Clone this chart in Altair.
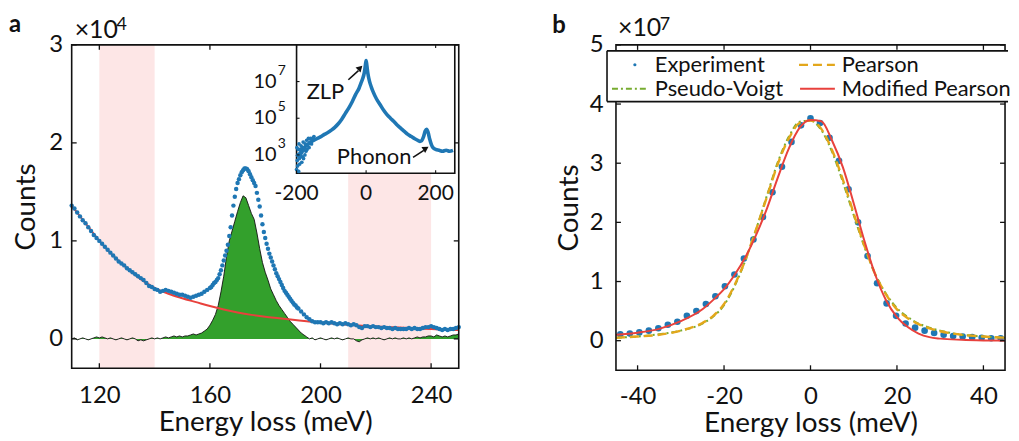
import altair as alt
import pandas as pd

FONT = "Lato"
INK = "#111111"
BLUE = "#1f77b4"
RED = "#e8413c"
GREEN = "#33a02c"
PINK = "#fde6e6"
YEL = "#e3a71b"
PVG = "#77ac30"

# ---------------- panel a : data (counts in units of 1e4) ----------------
a_blue_x = list(range(110, 160)) + [160 + 0.5 * i for i in range(65)] + list(range(193, 251))
a_blue_y = [
    1.36, 1.33, 1.29, 1.25, 1.21, 1.18, 1.14, 1.10, 1.06, 1.03,
    1.00, 0.97, 0.94, 0.91, 0.88, 0.85, 0.82, 0.79, 0.77, 0.75,
    0.72, 0.70, 0.68, 0.66, 0.64, 0.62, 0.60, 0.57, 0.54, 0.53,
    0.51, 0.50, 0.48, 0.49, 0.50, 0.49, 0.48, 0.47, 0.46, 0.45,
    0.45, 0.44, 0.43, 0.42, 0.43, 0.44, 0.45, 0.46, 0.48, 0.50,
    # 160 .. 192 (0.5 meV)
    0.52, 0.53, 0.55, 0.57, 0.58, 0.60, 0.62, 0.66, 0.70, 0.75,
    0.80, 0.85, 0.90, 0.96, 1.05, 1.14, 1.26, 1.36, 1.45, 1.53,
    1.59, 1.63, 1.67, 1.70, 1.72, 1.74, 1.74, 1.73, 1.71, 1.68,
    1.65, 1.62, 1.59, 1.56, 1.49, 1.42, 1.35, 1.26, 1.17, 1.09,
    1.03, 0.97, 0.92, 0.87, 0.83, 0.79, 0.75, 0.71, 0.67, 0.64,
    0.61, 0.58, 0.55, 0.52, 0.49, 0.47, 0.45, 0.43, 0.41, 0.39,
    0.37, 0.35, 0.34, 0.32, 0.31,
    # 193 .. 250
    0.28, 0.25, 0.22, 0.20, 0.18, 0.17, 0.17, 0.17,
    0.16, 0.17, 0.16, 0.17, 0.16, 0.15, 0.16, 0.15, 0.16, 0.15,
    0.14, 0.15, 0.14, 0.12, 0.11, 0.13, 0.13, 0.12, 0.13, 0.12,
    0.12, 0.11, 0.12, 0.11, 0.11, 0.10, 0.11, 0.10, 0.10, 0.10,
    0.10, 0.11, 0.10, 0.11, 0.10, 0.10, 0.11, 0.12, 0.12, 0.13,
    0.12, 0.11, 0.10, 0.09, 0.10, 0.09, 0.10, 0.10, 0.11, 0.12,
]
a_green_x = list(range(110, 251))
a_green_y = [
    0.00, 0.01, -0.01, 0.00, 0.01, 0.00, -0.01, 0.00, 0.01, 0.02,
    0.01, 0.02, 0.01, 0.00, 0.01, 0.00, -0.01, 0.00, 0.01, 0.00,
    -0.01, 0.00, 0.01, 0.00, -0.02, -0.01, -0.02, -0.01, 0.00, 0.01,
    0.00, 0.01, 0.00, 0.01, 0.02, 0.01, 0.02, 0.03, 0.02, 0.03,
    0.02, 0.03, 0.03, 0.04, 0.05, 0.04, 0.05, 0.06, 0.08, 0.10,
    0.14, 0.19, 0.25, 0.34, 0.48, 0.64, 0.84, 1.00, 1.10, 1.20,
    1.30, 1.39, 1.46, 1.44, 1.36, 1.28, 1.22, 1.08, 0.92, 0.78,
    0.68, 0.60, 0.51, 0.45, 0.39, 0.34, 0.30, 0.26, 0.22, 0.18,
    0.15, 0.12, 0.09, 0.06, 0.04, 0.02, 0.00, 0.01, -0.01, 0.00,
    0.01, 0.00, -0.01, 0.00, 0.01, 0.00, 0.01, 0.00, -0.01, 0.00,
    0.01, 0.00, 0.00, -0.02, -0.03, -0.01, 0.00, 0.01, 0.00, 0.01,
    0.00, 0.01, 0.00, -0.01, 0.00, 0.01, 0.00, 0.01, 0.00, 0.00,
    0.01, 0.00, 0.01, 0.00, 0.01, 0.02, 0.01, 0.02, 0.02, 0.03,
    0.03, 0.02, 0.04, 0.03, 0.02, 0.03, 0.02, 0.03, 0.04, 0.04,
    0.05,
]
a_bg_x = list(range(110, 251, 5))
a_bg_y = [1.36, 1.18, 1.00, 0.85, 0.72, 0.61, 0.52, 0.46, 0.415, 0.375,
          0.335, 0.30, 0.27, 0.245, 0.225, 0.21, 0.195, 0.18, 0.165, 0.155,
          0.145, 0.135, 0.127, 0.12, 0.113, 0.107, 0.10, 0.095, 0.09]
band_start = [120, 210]
band_end = [140, 240]
a_xticks = [120, 160, 200, 240]
a_yticks = [0, 1, 2, 3]

# inset (log10 of counts)
in_x = [-200, -190, -180, -170, -160, -150, -140, -130, -120, -110, -100, -90, -80, -70,
        -60, -50, -40, -30, -20, -15, -10, -5, -2, 0, 2, 5, 10, 15, 20, 30, 40, 50, 60,
        70, 80, 90, 100, 110, 120, 130, 140, 150, 155, 160, 165, 170, 174, 178, 183,
        188, 193, 200, 210, 220, 230, 240, 250]
in_logy = [2.9, 3.1, 3.35, 3.55, 3.68, 3.8, 3.9, 4.0, 4.12, 4.22, 4.35, 4.5, 4.7, 4.95,
           5.25, 5.55, 5.9, 6.3, 6.65, 6.9, 7.15, 7.5, 7.9, 8.15, 7.9, 7.45, 7.0, 6.7,
           6.45, 6.05, 5.75, 5.45, 5.2, 5.0, 4.82, 4.62, 4.45, 4.28, 4.12, 4.0, 3.88,
           3.78, 3.74, 3.78, 3.98, 4.3, 4.4, 4.25, 3.85, 3.55, 3.38, 3.3, 3.25, 3.2,
           3.25, 3.2, 3.25]
noise_x = [-200, -199, -198, -197, -196, -195, -194, -193, -192, -191, -190, -189, -188,
           -187, -186, -185, -184, -183, -182, -181, -180, -179, -178, -176, -175, -173,
           -171, -170, -168, -166, -164, -162, -160, -157, -155, -152, -150]
noise_logy = [2.2, 3.4, 2.7, 2.4, 3.0, 3.3, 2.1, 3.6, 2.8, 2.5, 3.3, 3.0, 2.9, 3.5, 3.1,
              2.6, 3.4, 3.2, 2.9, 3.7, 2.8, 3.3, 3.4, 3.0, 3.6, 3.2, 3.8, 3.3, 3.5, 3.9,
              3.4, 3.7, 3.9, 3.6, 3.8, 3.95, 4.0]
inset_xticks = [-200, 0, 200]
inset_xlabels = ["-200", "0", "200"]
inset_yticks = [1e3, 1e5, 1e7]
inset_yexp = ["3", "5", "7"]

# ---------------- panel b : data (counts in units of 1e7) ----------------
b_exp_x = [-44 + 2.2 * i for i in range(41)]
b_exp_y = [0.11, 0.12, 0.14, 0.17, 0.21, 0.27, 0.32, 0.42, 0.50, 0.62,
           0.75, 0.92, 1.12, 1.39, 1.71, 2.09, 2.51, 2.94, 3.36, 3.64,
           3.76, 3.68, 3.43, 3.04, 2.56, 2.00, 1.43, 0.97, 0.63, 0.42,
           0.29, 0.22, 0.17, 0.13, 0.10, 0.08, 0.07, 0.06, 0.05, 0.04, 0.04]
fit_x = [-45, -40, -35, -30, -25, -22.5, -20, -17.5, -15, -12.5, -10, -7.5, -5, -2.5, 0,
         2.5, 5, 7.5, 10, 12.5, 15, 17.5, 20, 22.5, 25, 27.5, 30, 35, 40, 45]
mod_pearson = [0.10, 0.135, 0.20, 0.33, 0.53, 0.69, 0.87, 1.12, 1.42, 1.80, 2.25, 2.77,
               3.25, 3.60, 3.73, 3.71, 3.38, 2.93, 2.32, 1.68, 1.11, 0.68, 0.40, 0.23,
               0.12, 0.06, 0.035, 0.015, 0.005, 0.0]
pearson = [0.05, 0.07, 0.10, 0.17, 0.30, 0.42, 0.62, 0.95, 1.38, 1.90, 2.45, 3.00, 3.42,
           3.68, 3.72, 3.58, 3.22, 2.72, 2.15, 1.60, 1.12, 0.78, 0.53, 0.38, 0.28, 0.21,
           0.16, 0.10, 0.07, 0.05]
pseudo_voigt = [0.05, 0.07, 0.11, 0.17, 0.29, 0.41, 0.60, 0.93, 1.37, 1.90, 2.47, 3.03,
                3.45, 3.70, 3.72, 3.56, 3.19, 2.68, 2.12, 1.58, 1.12, 0.79, 0.55, 0.40,
                0.29, 0.22, 0.17, 0.10, 0.07, 0.05]
b_xticks = [-40, -20, 0, 20, 40]
b_yticks = [0, 1, 2, 3, 4, 5]

# ---------------- geometry ----------------
W_A, H_A = 389, 325
W_B, H_B = 391, 327
TL = 5
dummy = pd.DataFrame({"k": [0]})


def vtext(txt, x, y, size, weight="normal", align="left", baseline="alphabetic"):
    return alt.Chart(dummy).mark_text(
        text=txt, font=FONT, fontSize=size, fontWeight=weight, align=align,
        baseline=baseline, color=INK).encode(x=alt.value(x), y=alt.value(y))


def frame(W, H):
    return alt.Chart(dummy).mark_rect(fill="white", fillOpacity=0, stroke=INK, strokeWidth=1.6).encode(
        x=alt.value(0), x2=alt.value(W), y=alt.value(0), y2=alt.value(H))


def ticks(xvals, yvals, X, Y, W, H):
    dx = pd.DataFrame({"t": xvals})
    dy = pd.DataFrame({"t": yvals})
    r = dict(color=INK, strokeWidth=1.3)
    return [
        alt.Chart(dx).mark_rule(**r).encode(x=X("t:Q"), y=alt.value(H), y2=alt.value(H - TL)),
        alt.Chart(dx).mark_rule(**r).encode(x=X("t:Q"), y=alt.value(0), y2=alt.value(TL)),
        alt.Chart(dy).mark_rule(**r).encode(y=Y("t:Q"), x=alt.value(0), x2=alt.value(TL)),
        alt.Chart(dy).mark_rule(**r).encode(y=Y("t:Q"), x=alt.value(W), x2=alt.value(W - TL)),
    ]


# ---------------- panel a ----------------
xs_a = alt.Scale(domain=[110, 250], nice=False, zero=False)
ys_a = alt.Scale(domain=[-0.3, 3], nice=False, zero=False)
xax_a = alt.Axis(values=a_xticks, title="Energy loss (meV)", labelPadding=15, titlePadding=2)
yax_a = alt.Axis(values=a_yticks, format="d", title="Counts", labelPadding=9, titlePadding=8)
XA = lambda f: alt.X(f, scale=xs_a, axis=xax_a)
YA = lambda f: alt.Y(f, scale=ys_a, axis=yax_a)

bands = alt.Chart(pd.DataFrame({"s": band_start, "e": band_end})).mark_rect(color=PINK).encode(
    x=XA("s:Q"), x2="e:Q", y=alt.value(0), y2=alt.value(H_A))

gdf = pd.DataFrame({"x": a_green_x, "y": a_green_y})
green_area = alt.Chart(gdf).mark_area(color=GREEN, opacity=1).encode(
    x=XA("x:Q"), y=YA("y:Q"), y2=alt.datum(0))
green_line = alt.Chart(gdf).mark_line(color=INK, strokeWidth=0.9).encode(x=XA("x:Q"), y=YA("y:Q"))
red_line = alt.Chart(pd.DataFrame({"x": a_bg_x, "y": a_bg_y})).mark_line(
    color=RED, strokeWidth=2, interpolate="monotone").encode(x=XA("x:Q"), y=YA("y:Q"))
blue_pts = alt.Chart(pd.DataFrame({"x": a_blue_x, "y": a_blue_y})).mark_circle(
    color=BLUE, size=20, opacity=1).encode(x=XA("x:Q"), y=YA("y:Q"))

main_a = alt.layer(
    bands, green_area, green_line, red_line, blue_pts,
    *ticks(a_xticks, a_yticks, XA, YA, W_A, H_A), frame(W_A, H_A),
    vtext("a", -63, -13, 24, weight="bold"),
    vtext("\u00d710", 3, -7, 25),
    vtext("4", 45, -15, 18),
)

# inset
IX0, IX1, IY0, IY1 = 226, 385, 0, 129
ixs = alt.Scale(domain=[-200, 255], range=[IX0, IX1], nice=False, zero=False)
iys = alt.Scale(type="log", domain=[1e2, 1e9], range=[IY1, IY0], nice=False)
IXn = lambda f: alt.X(f, scale=ixs, axis=None)
IYn = lambda f: alt.Y(f, scale=iys, axis=None)

inset_bg = alt.Chart(dummy).mark_rect(fill="white", stroke=INK, strokeWidth=1.6).encode(
    x=alt.value(IX0), x2=alt.value(IX1), y=alt.value(IY0), y2=alt.value(IY1))
inset_line = alt.Chart(pd.DataFrame({"x": in_x, "y": [10 ** v for v in in_logy]})).mark_line(
    color=BLUE, strokeWidth=3.6, interpolate="monotone").encode(x=IXn("x:Q"), y=IYn("y:Q"))
inset_noise = alt.Chart(pd.DataFrame({"x": noise_x, "y": [10 ** v for v in noise_logy]})).mark_circle(
    color=BLUE, size=14, opacity=1).encode(x=IXn("x:Q"), y=IYn("y:Q"))
itx = pd.DataFrame({"t": inset_xticks, "lab": inset_xlabels})
ity = pd.DataFrame({"t": inset_yticks, "e": inset_yexp, "b": ["10"] * 3})
rr = dict(color=INK, strokeWidth=1.1)
inset_ticks = [
    alt.Chart(itx).mark_rule(**rr).encode(x=IXn("t:Q"), y=alt.value(IY0), y2=alt.value(IY0 + 3)),
    alt.Chart(itx).mark_rule(**rr).encode(x=IXn("t:Q"), y=alt.value(IY1), y2=alt.value(IY1 - 3)),
    alt.Chart(ity).mark_rule(**rr).encode(y=IYn("t:Q"), x=alt.value(IX0), x2=alt.value(IX0 + 3)),
]
inset_xlab = alt.Chart(itx).mark_text(font=FONT, fontSize=21, color=INK, baseline="middle").encode(
    x=IXn("t:Q"), y=alt.value(IY1 + 21), text="lab:N")
inset_ylab = alt.Chart(ity).mark_text(font=FONT, fontSize=20, color=INK, align="right",
                                      baseline="middle").encode(
    y=IYn("t:Q"), x=alt.value(IX0 - 20), text="b:N")
inset_yexp_t = alt.Chart(ity).mark_text(font=FONT, fontSize=14, color=INK, align="left",
                                        baseline="middle", dy=-11).encode(
    y=IYn("t:Q"), x=alt.value(IX0 - 19), text="e:N")

ann_text = alt.Chart(pd.DataFrame({"x": [-117, 23], "y": [10 ** 6.45, 10 ** 2.87],
                                   "t": ["ZLP", "Phonon"]})).mark_text(
    font=FONT, fontSize=22, color=INK, baseline="middle").encode(x=IXn("x:Q"), y=IYn("y:Q"), text="t:N")
arrows = alt.Chart(pd.DataFrame({"x1": [-51, 135], "x2": [-22, 166], "y1": [10 ** 7.10, 10 ** 2.87],
                                 "y2": [10 ** 7.6, 10 ** 3.25]})).mark_rule(
    color=INK, strokeWidth=1.6).encode(x=IXn("x1:Q"), x2="x2:Q", y=IYn("y1:Q"), y2="y2:Q")
head1 = alt.Chart(pd.DataFrame({"x": [-17], "y": [10 ** 7.75]})).mark_point(
    shape="triangle-up", filled=True, size=50, angle=45, color=INK, opacity=1).encode(
    x=IXn("x:Q"), y=IYn("y:Q"))
head2 = alt.Chart(pd.DataFrame({"x": [172], "y": [10 ** 3.36]})).mark_point(
    shape="triangle-up", filled=True, size=50, angle=58, color=INK, opacity=1).encode(
    x=IXn("x:Q"), y=IYn("y:Q"))

inset = alt.layer(inset_bg, inset_line, inset_noise, *inset_ticks, inset_xlab, inset_ylab,
                  inset_yexp_t, ann_text, arrows, head1, head2)

panel_a = alt.layer(main_a, inset).resolve_scale(x="independent", y="independent").properties(
    width=W_A, height=H_A)

# ---------------- panel b ----------------
xs_b = alt.Scale(domain=[-45, 45], nice=False, zero=False)
ys_b = alt.Scale(domain=[-0.5, 5], nice=False, zero=False)
xax_b = alt.Axis(values=b_xticks, title="Energy loss (meV)", labelPadding=14, titlePadding=2,
                 labelExpr="datum.value < 0 ? '-' + abs(datum.value) : '' + datum.value")
yax_b = alt.Axis(values=b_yticks, format="d", title="Counts", labelPadding=13, titlePadding=6)
XB = lambda f: alt.X(f, scale=xs_b, axis=xax_b)
YB = lambda f: alt.Y(f, scale=ys_b, axis=yax_b)

exp_pts = alt.Chart(pd.DataFrame({"x": b_exp_x, "y": b_exp_y})).mark_circle(
    color=BLUE, size=44, opacity=1).encode(x=XB("x:Q"), y=YB("y:Q"))
fits = pd.DataFrame({"x": fit_x, "pv": pseudo_voigt, "p": pearson, "mp": mod_pearson})
pv_line = alt.Chart(fits).mark_line(color=PVG, strokeWidth=2, strokeDash=[6, 3, 2, 3],
                                    interpolate="monotone").encode(x=XB("x:Q"), y=YB("pv:Q"))
p_line = alt.Chart(fits).mark_line(color=YEL, strokeWidth=2.4, strokeDash=[9, 5],
                                   interpolate="monotone").encode(x=XB("x:Q"), y=YB("p:Q"))
mp_line = alt.Chart(fits).mark_line(color=RED, strokeWidth=2,
                                    interpolate="monotone").encode(x=XB("x:Q"), y=YB("mp:Q"))

LX0, LX1, LY0, LY1 = -9, 394, 6, 57
leg_bg = alt.Chart(dummy).mark_rect(fill="white").encode(
    x=alt.value(LX0), x2=alt.value(LX1), y=alt.value(LY0), y2=alt.value(LY1))
lr = dict(color=INK, strokeWidth=1.6)
leg_edges = [
    alt.Chart(dummy).mark_rule(**lr).encode(x=alt.value(LX0), x2=alt.value(LX1), y=alt.value(LY0)),
    alt.Chart(dummy).mark_rule(**lr).encode(x=alt.value(LX0), x2=alt.value(LX1), y=alt.value(LY1)),
    alt.Chart(dummy).mark_rule(**lr).encode(x=alt.value(LX0), y=alt.value(LY0), y2=alt.value(LY1)),
]
leg_dot = alt.Chart(dummy).mark_circle(color=BLUE, size=10, opacity=1).encode(
    x=alt.value(19), y=alt.value(20))
leg_p = alt.Chart(dummy).mark_rule(color=YEL, strokeWidth=2.2, strokeDash=[9, 5]).encode(
    x=alt.value(184), x2=alt.value(220), y=alt.value(20))
leg_pv = alt.Chart(dummy).mark_rule(color=PVG, strokeWidth=2, strokeDash=[6, 3, 2, 3]).encode(
    x=alt.value(-4), x2=alt.value(32), y=alt.value(44))
leg_mp = alt.Chart(dummy).mark_rule(color=RED, strokeWidth=2).encode(
    x=alt.value(185), x2=alt.value(220), y=alt.value(44))
LF = 22
leg_texts = [
    vtext("Experiment", 39, 27, LF), vtext("Pearson", 227, 27, LF),
    vtext("Pseudo-Voigt", 39, 51, LF), vtext("Modified Pearson", 227, 51, LF),
]

panel_b = alt.layer(
    exp_pts, pv_line, p_line, mp_line,
    *ticks(b_xticks, b_yticks, XB, YB, W_B, H_B), frame(W_B, H_B),
    leg_bg, *leg_edges, leg_dot, leg_p, leg_pv, leg_mp, *leg_texts,
    vtext("b", -64, -12, 24, weight="bold"),
    vtext("\u00d710", 2, -9, 25),
    vtext("7", 44, -15, 18),
).properties(width=W_B, height=H_B)

chart = alt.hconcat(panel_a, panel_b, spacing=90).properties(
    padding={"left": 1, "top": 4, "right": 0, "bottom": 0}
).configure_axis(
    labelFont=FONT, labelFontSize=24, labelColor=INK, titleFont=FONT, titleFontSize=28,
    titleFontWeight="normal", titleColor=INK, grid=False, domain=False, ticks=False, tickSize=0
).configure_view(strokeWidth=0)

chart.save("out.html", embed_options={"renderer": "svg", "actions": False})
